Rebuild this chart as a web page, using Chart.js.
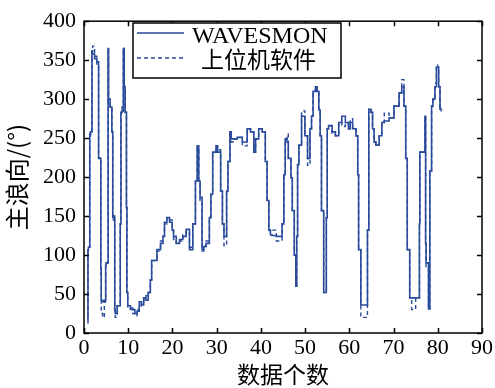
<!DOCTYPE html>
<html><head><meta charset="utf-8">
<script src="https://cdn.jsdelivr.net/npm/chart.js@4/dist/chart.umd.min.js"></script>
<style>html,body{margin:0;padding:0;background:#fff;}#wrap{width:495px;height:388px;position:relative;}</style>
</head><body><div id="wrap"><canvas id="c" width="495" height="388"></canvas></div>
<script>
// sample positions (data index)
const xValues = [0.9,1.0,1.3,1.45,1.8,1.95,2.4,2.9,3.3,3.4,3.8,3.9,4.2,4.6,4.9,5.0,5.45,5.55,5.9,6.3,6.5,6.65,6.95,7.05,7.5,8.2,8.35,8.6,8.9,9.1,9.3,9.6,9.7,9.9,10.5,11.0,11.5,12.0,12.5,13.0,13.5,14.0,14.5,15.0,15.3,16.5,17.3,17.85,18.2,18.75,19.35,19.95,20.25,20.85,21.6,22.35,23.1,23.85,24.6,25.2,25.6,25.95,26.25,26.7,27.1,27.6,28.35,28.7,29.1,29.85,30.2,30.9,31.3,31.65,32.25,32.55,33.0,33.3,33.9,34.65,35.8,36.9,37.65,38.4,38.8,39.5,40.3,41.0,41.4,41.8,42.15,42.5,43.5,44.8,45.2,45.5,45.9,46.2,46.8,47.1,47.55,47.9,48.1,48.3,48.6,49.2,49.95,50.55,51.1,51.45,51.8,52.35,52.7,53.1,53.4,53.7,54.2,54.5,54.8,55.0,55.3,56.1,56.85,57.6,58.3,59.1,59.8,60.2,60.75,61.5,61.9,62.1,62.6,63.0,64.1,64.4,64.9,65.25,65.6,66.0,66.75,67.35,67.9,69.0,70.1,71.25,71.85,72.35,72.75,73.1,73.65,74.1,75.0,75.85,75.95,76.7,77.1,77.25,77.35,77.9,78.2,78.6,78.9,79.35,79.7,79.95,80.2,80.5,81.0];
const wavesmon = [16,107,110,255,258,362,358,352,348,224,224,82,42,40,42,87,90,365,300,290,258,148,150,30,25,35,140,283,285,365,316,283,161,52,35,32,30,25,28,40,36,45,42,52,68,93,107,115,124,142,148,142,132,124,115,120,124,133,107,140,195,240,195,174,107,111,115,148,178,232,240,232,182,140,124,182,220,258,249,249,251,245,262,258,232,249,262,258,220,170,132,126,125,124,140,203,249,245,224,199,157,100,60,124,216,241,278,253,224,262,278,310,316,310,286,253,157,52,52,148,262,266,258,253,270,278,270,262,270,262,253,203,107,36,36,132,287,283,262,245,241,253,270,272,276,291,308,316,291,224,107,45,45,45,140,232,232,278,115,90,31,208,291,300,316,341,341,316,287];
const software = [12,107,110,250,255,362,368,355,345,224,225,75,25,20,40,87,90,365,300,290,258,148,145,30,20,35,140,283,290,365,316,283,161,52,32,30,25,22,30,35,40,45,48,52,68,93,105,118,124,140,148,145,132,120,115,118,126,130,110,140,195,238,195,170,105,111,118,148,178,232,240,235,182,140,112,182,220,258,245,249,251,240,262,258,232,249,262,258,220,170,132,130,132,118,140,203,249,255,224,199,157,100,60,124,216,241,285,253,215,262,278,310,316,312,286,253,157,52,52,148,262,266,255,253,270,265,270,262,275,262,253,203,107,20,20,132,287,283,262,245,241,253,270,282,276,291,308,325,291,224,107,45,30,45,140,232,232,278,115,85,31,208,291,300,320,344,341,316,285];
const xTicks = [0,10,20,30,40,50,60,70,80,90];
const yTicks = [0,50,100,150,200,250,300,350,400];
const seriesLabels = ['WAVESMON','上位机软件'];
const xTitle = '数据个数';
const yTitle = '主浪向/(°)';

const lineColor = '#2a4b9b';
const serif = '"Liberation Serif", "DejaVu Serif", serif';
const cjk = '"Noto Sans CJK SC", sans-serif';

const boxPlugin = {
  id: 'boxTicks',
  afterDatasetsDraw(chart) {
    const {ctx, chartArea: a, scales} = chart;
    ctx.save();
    ctx.strokeStyle = '#000';
    ctx.lineWidth = 1.5;
    ctx.beginPath();
    xTicks.forEach(v => {
      const px = Math.round(scales.x.getPixelForValue(v)) + 0.5;
      ctx.moveTo(px, a.bottom); ctx.lineTo(px, a.bottom - 5);
      ctx.moveTo(px, a.top); ctx.lineTo(px, a.top + 5);
    });
    yTicks.forEach(v => {
      const py = Math.round(scales.y.getPixelForValue(v)) + 0.5;
      ctx.moveTo(a.left, py); ctx.lineTo(a.left + 5, py);
      ctx.moveTo(a.right, py); ctx.lineTo(a.right - 5, py);
    });
    ctx.stroke();
    ctx.strokeRect(a.left, a.top, a.right - a.left, a.bottom - a.top);
    ctx.restore();
  },
  afterDraw(chart) {
    const ctx = chart.ctx;
    const ds = chart.data.datasets;
    const bx = 133, by = 23, bw = 208, bh = 55;
    ctx.save();
    ctx.fillStyle = '#fff';
    ctx.fillRect(bx, by, bw, bh);
    ctx.strokeStyle = '#000';
    ctx.lineWidth = 1.5;
    ctx.strokeRect(bx, by, bw, bh);
    const rows = [33, 58];
    ds.forEach((d, i) => {
      ctx.strokeStyle = d.borderColor;
      ctx.lineWidth = d.borderWidth;
      ctx.setLineDash(d.borderDash || []);
      ctx.beginPath();
      ctx.moveTo(137, rows[i]); ctx.lineTo(184, rows[i]);
      ctx.stroke();
    });
    ctx.setLineDash([]);
    ctx.fillStyle = '#000';
    ctx.textAlign = 'left';
    ctx.textBaseline = 'alphabetic';
    ctx.font = '24px ' + serif;
    ctx.fillText(ds[0].label, 192, 43);
    ctx.font = '23px ' + cjk;
    ctx.textBaseline = 'middle';
    ctx.fillText(ds[1].label, 201, 59);
    ctx.restore();
  }
};

const toPts = arr => arr.map((v, i) => ({x: xValues[i], y: v}));

new Chart(document.getElementById('c'), {
  type: 'line',
  data: {
    datasets: [
      {label: seriesLabels[0], data: toPts(wavesmon), borderColor: lineColor, borderWidth: 1.6, pointRadius: 0, stepped: 'after', fill: false},
      {label: seriesLabels[1], data: toPts(software), borderColor: lineColor, borderWidth: 1.4, borderDash: [4, 3], pointRadius: 0, stepped: 'after', fill: false}
    ]
  },
  options: {
    responsive: false,
    animation: false,
    layout: {padding: {top: 15, right: 11, left: 0, bottom: 0}},
    plugins: {legend: {display: false}, tooltip: {enabled: false}},
    scales: {
      x: {
        type: 'linear', min: 0, max: 90,
        afterBuildTicks: s => { s.ticks = xTicks.map(v => ({value: v})); },
        afterFit: s => { s.height = 55; },
        grid: {display: false, drawTicks: false},
        border: {display: false},
        ticks: {color: '#000', padding: 2, maxRotation: 0, autoSkip: false, font: {family: serif, size: 22, lineHeight: 1.2}},
        title: {display: true, text: xTitle, color: '#000', padding: {top: 0, bottom: 0}, font: {family: cjk, size: 23, lineHeight: 1.2}}
      },
      y: {
        type: 'linear', min: 0, max: 400,
        afterBuildTicks: s => { s.ticks = yTicks.map(v => ({value: v})); },
        afterFit: s => { s.width = 84; },
        grid: {display: false, drawTicks: false},
        border: {display: false},
        ticks: {color: '#000', padding: 8, autoSkip: false, font: {family: serif, size: 22, lineHeight: 1.2}},
        title: {display: true, text: yTitle, color: '#000', padding: {top: 2, bottom: 0}, font: {family: cjk, size: 24, lineHeight: 1.2}}
      }
    }
  },
  plugins: [boxPlugin]
});
</script></body></html>
